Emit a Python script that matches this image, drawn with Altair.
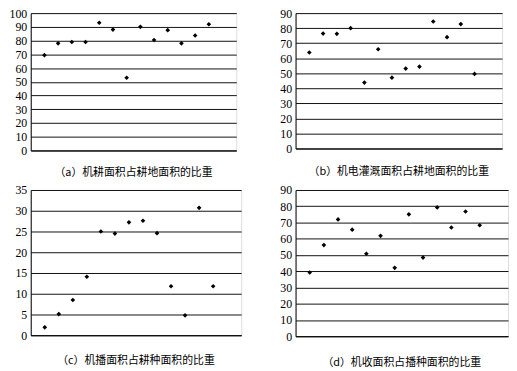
import altair as alt
import pandas as pd

idx = list(range(1, 14))
vals_a = [69.4, 78.0, 79.0, 79.0, 93.0, 88.0, 52.9, 90.0, 80.4, 87.6, 78.0, 83.7, 91.9]
vals_b = [63.8, 76.4, 76.2, 80.0, 43.8, 66.0, 47.1, 53.1, 54.4, 84.4, 74.0, 82.7, 49.6]
vals_c = [1.9, 5.1, 8.5, 14.1, 25.0, 24.5, 27.2, 27.6, 24.6, 11.8, 4.8, 30.7, 11.8]
vals_d = [39.2, 56.1, 71.9, 65.6, 50.8, 61.8, 42.1, 75.0, 48.4, 79.3, 66.9, 76.8, 68.3]

captions = [
    "（a）机耕面积占耕地面积的比重",
    "（b）机电灌溉面积占耕地面积的比重",
    "（c）机播面积占耕种面积的比重",
    "（d）机收面积占播种面积的比重",
]
ymax = [100, 90, 35, 90]
ystep = [10, 10, 5, 10]
sizes = [(208, 139), (209, 137), (213, 147), (215, 148)]
extents = [22, 20, 20, 20]


def panel(vals, cap, ym, st, w, h, ext, title_offset):
    df = pd.DataFrame({"i": idx, "v": vals})
    pts = alt.Chart(df).mark_point(
        shape="diamond", filled=True, color="black", size=22, opacity=1
    ).encode(
        x=alt.X("i:Q", scale=alt.Scale(domain=[0, 15], nice=False),
                axis=alt.Axis(labels=False, ticks=False, grid=False, title=None,
                              domain=True, domainColor="black", domainWidth=1)),
        y=alt.Y("v:Q", scale=alt.Scale(domain=[0, ym], nice=False),
                axis=alt.Axis(values=list(range(0, ym + 1, st)), title=None,
                              ticks=False, grid=True, gridColor="#111",
                              gridWidth=1, domain=True, domainColor="black",
                              labelFont="Liberation Serif", labelFontSize=12,
                              labelColor="black", labelPadding=4,
                              minExtent=ext, maxExtent=ext)),
    )
    return pts.properties(
        width=w, height=h,
        title=alt.TitleParams(cap, orient="bottom", font="Noto Sans CJK SC",
                              fontSize=11, fontWeight="normal", color="black",
                              offset=title_offset),
    )


a = panel(vals_a, captions[0], ymax[0], ystep[0], *sizes[0], extents[0], 11)
b = panel(vals_b, captions[1], ymax[1], ystep[1], *sizes[1], extents[1], 12)
c = panel(vals_c, captions[2], ymax[2], ystep[2], *sizes[2], extents[2], 14)
d = panel(vals_d, captions[3], ymax[3], ystep[3], *sizes[3], extents[3], 15)

top = alt.hconcat(a, b, spacing=38)
bottom = alt.hconcat(c, d, spacing=33)
chart = alt.vconcat(top, bottom, spacing=4).properties(
    padding={"left": 0, "top": -4, "right": 0, "bottom": 0}
).configure_view(stroke="#999", strokeWidth=1).configure(background="white")

chart.save("out.html", embed_options={"renderer": "svg", "actions": False})
